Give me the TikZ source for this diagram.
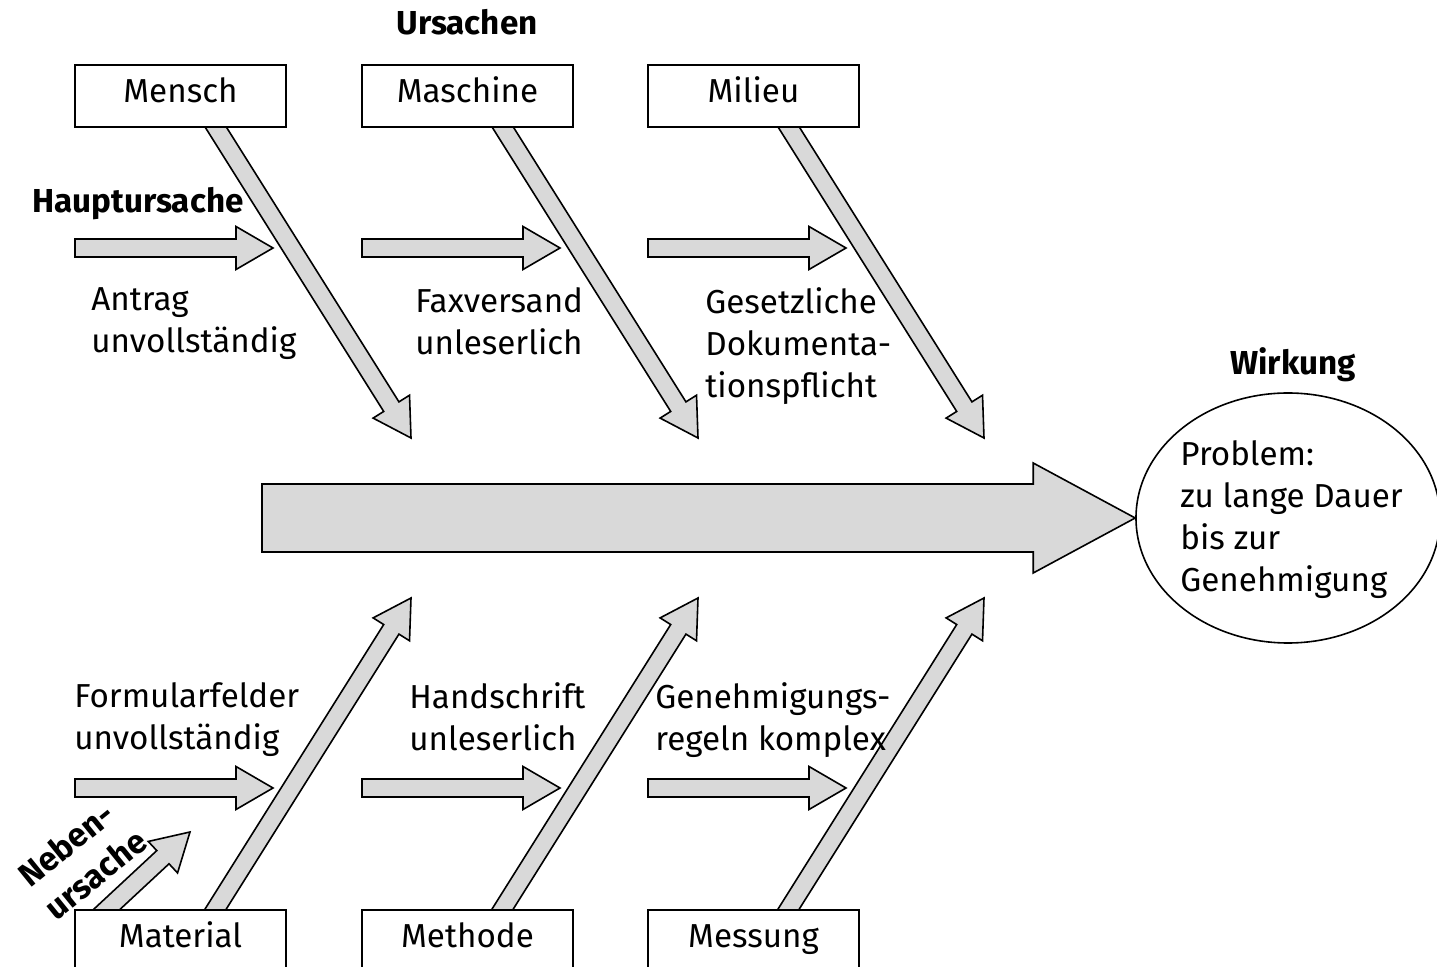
\documentclass[tikz,border=0pt]{standalone}
\usepackage{fontspec}
\setmainfont{Fira Sans}
\usetikzlibrary{calc,shapes.geometric}

% block arrow: #1 start, #2 tip, #3 shaft half-width, #4 head half-width, #5 head length
\newcommand\blockarrow[5]{%
  \coordinate (ba-h) at ($(#2)!#5!(#1)$);
  \draw[arrowbody] ($(#1)!#3!90:(#2)$) -- ($(ba-h)!#3!90:(#2)$)
    -- ($(ba-h)!#4!90:(#2)$) -- (#2) -- ($(ba-h)!#4!-90:(#2)$)
    -- ($(ba-h)!#3!-90:(#2)$) -- ($(#1)!#3!-90:(#2)$) -- cycle;
}
\newcommand\smallarrow[2]{\blockarrow{#1}{#2}{4.5pt}{10.75pt}{18.5pt}}

\begin{document}
\begin{tikzpicture}[x=0.5pt,y=-0.5pt,
  txt/.style={font=\fontsize{16.6}{21}\selectfont},
  lbl/.style={txt, inner sep=0pt, align=left, anchor=north west},
  heading/.style={font=\fontsize{16.6}{21}\selectfont\bfseries, inner sep=0pt},
  catbox/.style={txt, draw, line width=1pt, fill=white, minimum width=105.5pt,
    minimum height=31pt, inner sep=0pt, text height=11pt, text depth=4pt},
  arrowbody/.style={draw, fill=black!15, line width=0.8pt, line join=miter}]

\clip (0,0) rectangle (1437,967);

% tips and free ends of the bones
\foreach \i/\x in {1/0,2/287,3/573}{
  \coordinate (hu\i) at (75+\x,248);   \coordinate (hut\i) at (273+\x,248);
  \coordinate (hl\i) at (75+\x,788);   \coordinate (hlt\i) at (273+\x,788);
  \coordinate (du\i) at (205+\x,110);  \coordinate (dut\i) at (411+\x,438);
  \coordinate (dl\i) at (205+\x,926);  \coordinate (dlt\i) at (411+\x,598);
}
\coordinate (nb) at (90,925);
\coordinate (nbt) at (190,832);
\coordinate (spine) at (262,518);

% horizontal sub-cause arrows
\foreach \i in {1,2,3}{
  \smallarrow{hu\i}{hut\i}
  \smallarrow{hl\i}{hlt\i}
}
% main bones
\foreach \i in {1,2,3}{
  \smallarrow{du\i}{dut\i}
  \smallarrow{dl\i}{dlt\i}
}
\smallarrow{nb}{nbt}

% category boxes
\node[catbox] (mensch)   at (180.5,96) {Mensch};
\node[catbox] (maschine) at (467.5,96) {Maschine};
\node[catbox] (milieu)   at (753.5,96) {Milieu};
\node[catbox, anchor=north] (material) at (180.5,909) {Material};
\node[catbox, anchor=north] (methode)  at (467.5,909) {Methode};
\node[catbox, anchor=north] (messung)  at (753.5,909) {Messung};

% effect
\node[draw, ellipse, line width=0.8pt, minimum width=152pt, minimum height=125pt,
  inner sep=0pt] (wirk) at (1288,518) {};
\blockarrow{spine}{wirk.west}{17pt}{27.5pt}{51pt}
\node[lbl] (problem) at (1180,440) {Problem:\\zu lange Dauer\\bis zur\\Genehmigung};

% headings
\node[heading] (ursachen) at (467,22) {Ursachen};
\node[heading, anchor=west] (haupt) at (32,204) {Hauptursache};
\node[heading] (wirkung) at (1293,365) {Wirkung};
\node[heading, align=left, rotate=39] (neben) at (82,858) {Neben-\\ursache};

% sub-cause labels
\node[lbl] (l1) at (91,287)  {Antrag\\unvollständig};
\node[lbl] (l2) at (415,287) {Faxversand\\unleserlich};
\node[lbl] (l3) at (705,287) {Gesetzliche\\Dokumenta-\\tionspflicht};
\node[lbl] (l4) at (74,682)  {Formularfelder\\unvollständig};
\node[lbl] (l5) at (409,682) {Handschrift\\unleserlich};
\node[lbl] (l6) at (655,682) {Genehmigungs-\\regeln komplex};
\end{tikzpicture}
\end{document}
